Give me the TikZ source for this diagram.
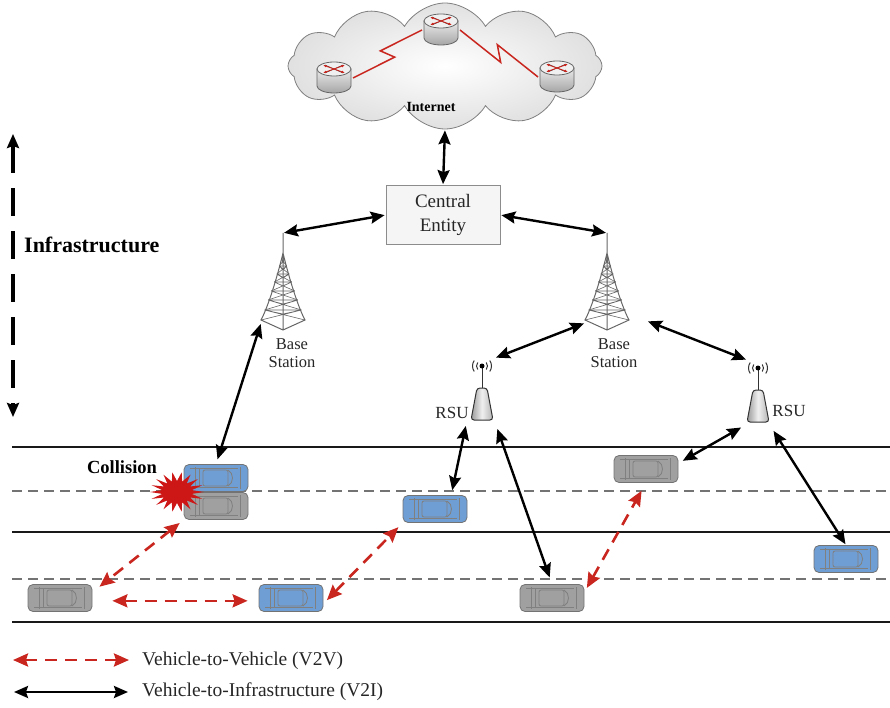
\documentclass[tikz,border=0pt]{standalone}
\usepackage{fontspec}
\setmainfont{Liberation Serif}
\usetikzlibrary{arrows.meta, shapes.symbols, calc}
\definecolor{CarBlue}{RGB}{110,158,212}
\definecolor{CarGray}{RGB}{160,160,160}
\definecolor{LinkRed}{RGB}{200,38,30}
\definecolor{CrashRed}{RGB}{205,22,22}

\tikzset{
  v2i/.style={line width=2.4pt, shorten <=1pt, shorten >=1pt,
    {Stealth[length=14pt,width=12pt,inset=2pt]}-{Stealth[length=14pt,width=12pt,inset=2pt]}},
  v2v/.style={LinkRed, line width=2.6pt, dash pattern=on 12pt off 8pt,
    {Stealth[length=15pt,width=13pt,inset=2pt]}-{Stealth[length=15pt,width=13pt,inset=2pt]}},
  infra/.style={line width=3.2pt, dash pattern=on 28pt off 15pt,
    {Stealth[length=14pt,width=12pt,inset=2pt]}-{Stealth[length=14pt,width=12pt,inset=2pt]}},
  road/.style={line width=2.6pt, black!90},
  lane/.style={black!55, line width=1.2pt, dash pattern=on 10pt off 6pt},
  bolt/.style={LinkRed, line width=1.5pt},
  carbody/.style={draw=black!55, line width=0.8pt, rounded corners=5pt,
    minimum width=64pt, minimum height=27pt, inner sep=0pt},
  cardetail/.style={black!50, line width=0.8pt},
  towerline/.style={black!60, line width=1pt},
  rsuline/.style={black!80, line width=1pt},
  routerline/.style={black!60, line width=0.8pt},
  lbl/.style={font=\fontsize{16.5}{18}\selectfont, align=center, inner sep=0pt, text=black!85},
  legend/.style={font=\fontsize{19.5}{22}\selectfont, inner sep=0pt, text=black!85},
  entity/.style={draw=black!45, fill=black!4, line width=0.8pt, minimum width=114pt,
    minimum height=59pt, align=center, font=\fontsize{19}{24}\selectfont, text=black!85},
  % vehicle seen from above, driving to the right
  car/.pic={
    \node[carbody, fill=#1] (-body) at (0,0) {};
    \draw[cardetail] (-21,-11) -- (-21,11) (-17,-10) -- (-17,10)
      (-26,-9.5) -- (22,-9.5) (-26,9.5) -- (22,9.5);
    \draw[cardetail, rounded corners=2pt] (-13,-8) rectangle (12,8);
    \draw[cardetail] (12,-8) .. controls (18,-5) and (18,5) .. (12,8);
    \draw[cardetail] (24,-11) -- (24,11);
  },
  % lattice mast, origin at the tip of the spike
  tower/.pic={
    \draw[towerline] (0,0) -- (0,97)
      (0,20) .. controls (-6,45) and (-15,74) .. (-22,87) -- (0,97) -- (22,87)
      .. controls (15,74) and (6,45) .. (0,20);
    \foreach \ya/\yb in {26/33,33/41,41/49,49/58,58/67,67/77,77/87}{
      \pgfmathsetmacro\wa{22*((\ya-20)/67)^1.1}
      \pgfmathsetmacro\wb{22*((\yb-20)/67)^1.1}
      \draw[towerline, line width=0.6pt] (-\wa,\ya) -- (\wa,\ya)
        (-\wa,\ya) -- (\wb,\yb) (\wa,\ya) -- (-\wb,\yb)
        (-\wa,\ya) -- (0,\ya+4) -- (\wa,\ya);
    }
    \coordinate (-top) at (0,0);
    \coordinate (-sw) at (-22,90);
    \coordinate (-se) at (40,88);
  },
  % road side unit, origin at the antenna ball
  rsu/.pic={
    \draw[rsuline] (0,2) -- (0,22);
    \fill (0,0) circle (2.5);
    \draw[rsuline, line width=1pt] (140:5.5) arc (140:220:5.5) (-40:5.5) arc (-40:40:5.5)
      (145:9.5) arc (145:215:9.5) (-35:9.5) arc (-35:35:9.5);
    \draw[rsuline, rounded corners=3pt, left color=black!40, right color=black!30, middle color=black!6]
      (-5,22) -- (5,22) -- (11,54) -- (-11,54) -- cycle;
    \coordinate (-ne) at (13,-8);
    \coordinate (-nw) at (-11,-8);
    \coordinate (-sw) at (-16,59);
    \coordinate (-se) at (15,62);
  },
  % router drum with crossed arrows on top
  router/.pic={
    \draw[routerline, top color=black!8, bottom color=black!35]
      (-17,0) -- (-17,17) arc (180:0:17 and 7) -- (17,0) -- cycle;
    \draw[routerline, fill=black!6] (0,0) ellipse (17 and 7);
    \draw[black!70, line width=0.6pt] (-9,-4) -- (9,4) (-9,4) -- (9,-4);
    \draw[LinkRed, line width=0.9pt, {Latex[length=3.5pt]}-{Latex[length=3.5pt]}] (-11,-4) -- (11,4);
    \draw[LinkRed, line width=0.9pt, {Latex[length=3.5pt]}-{Latex[length=3.5pt]}] (-11,4) -- (11,-4);
    \coordinate (-e) at (19,9);
    \coordinate (-w) at (-19,9);
  },
}

\begin{document}
\begin{tikzpicture}[x=1pt, y=-1pt]
  \useasboundingbox (0,0) rectangle (890,708);

  % Internet cloud with routers
  \node[cloud, cloud puffs=12, cloud puff arc=120, aspect=2.5, draw=black!50, line width=0.8pt,
    inner color=white, outer color=black!12, minimum width=314pt, minimum height=126pt] (inet) at (445,66) {};
  \pic (r1) at (334,69) {router};
  \pic (r2) at (441,21) {router};
  \pic (r3) at (557,68) {router};
  \draw[bolt] (r1-e) -- ($(r1-e)!.56!(r2-w)+(3,6)$) -- ($(r1-e)!.44!(r2-w)+(-3,-6)$) -- (r2-w);
  \draw[bolt] (r2-e) -- ($(r2-e)!.56!(r3-w)+(-3,6)$) -- ($(r2-e)!.44!(r3-w)+(3,-6)$) -- (r3-w);
  \node[font=\fontsize{14}{16}\bfseries, inner sep=0pt] (inetlbl) at (431,107) {Internet};

  % Central entity and base stations
  \node[entity] (ce) at (443,215) {Central\\Entity};
  \pic (bsL) at (283,233) {tower};
  \pic (bsR) at (607,233) {tower};
  \node[lbl] (bsLlbl) at (292,353) {Base\\Station};
  \node[lbl] (bsRlbl) at (614,353) {Base\\Station};

  % Road side units
  \pic (rsuL) at (482,366) {rsu};
  \pic (rsuR) at (758,368) {rsu};
  \node[lbl, font=\fontsize{17}{18}\selectfont] (rsuLlbl) at (452,413) {RSU};
  \node[lbl, font=\fontsize{17}{18}\selectfont] (rsuRlbl) at (789,411) {RSU};

  % Infrastructure level
  \coordinate (infraTop) at (13,134);
  \coordinate (infraBot) at (13,417);
  \draw[infra] (infraTop) -- (infraBot);
  \node[font=\fontsize{22}{24}\bfseries, anchor=west, inner sep=0pt] (infra) at (24,245) {Infrastructure};

  % Roads
  \draw[road] (12,447) -- (890,447);
  \draw[lane] (12,491) -- (890,491);
  \draw[road] (12,532) -- (890,532);
  \draw[lane] (12,579) -- (890,579);
  \draw[road] (12,622) -- (890,622);

  % Vehicles
  \pic (c1) at (216,478) {car=CarBlue};
  \pic (c2) at (216,506) {car=CarGray};
  \pic (c3) at (60,598) {car=CarGray};
  \pic (c4) at (291,598) {car=CarBlue};
  \pic (c5) at (435,509) {car=CarBlue};
  \pic (c6) at (552,598) {car=CarGray};
  \pic (c7) at (646,469) {car=CarGray};
  \pic (c8) at (846,559) {car=CarBlue};

  % Collision burst
  \begin{scope}[shift={(177,492)}]
    \fill[CrashRed] (0:27 and 20)
      \foreach \i [evaluate=\i as \rx using {27-12*mod(\i,2)},
                   evaluate=\i as \ry using {20-9*mod(\i,2)}] in {1,...,35} {
        -- (\i*10:{\rx} and {\ry}) } -- cycle;
  \end{scope}
  \node[font=\fontsize{18.5}{20}\bfseries, inner sep=0pt] (crash) at (122,467) {Collision};

  % V2I links
  \draw[v2i] (inet.south) -- (ce.north);
  \draw[v2i] (ce.west) -- (bsL-top);
  \draw[v2i] (ce.east) -- (bsR-top);
  \draw[v2i, shorten >=5pt] (bsL-sw) -- (c1-body.north);
  \draw[v2i] (bsR-sw) -- (rsuL-ne);
  \draw[v2i] (bsR-se) -- (rsuR-nw);
  \draw[v2i, shorten >=5pt] (rsuL-sw) -- ($(c5-body.north)!.5!(c5-body.north east)$);
  \draw[v2i, shorten >=7pt] (rsuL-se) -- (c6-body.north);
  \draw[v2i, shorten >=5pt] (rsuR-sw) -- (c7-body.10);
  \draw[v2i, shorten >=1pt] (rsuR-se) -- (c8-body.north);

  % V2V links
  \draw[v2v, shorten <=5pt, shorten >=9pt] (c2-body.south west) -- (c3-body.10);
  \draw[v2v, shorten <=20pt, shorten >=11pt] (c3-body.-5) -- (c4-body.185);
  \draw[v2v, shorten <=5pt, shorten >=6pt] (c4-body.-10) -- (c5-body.south west);
  \draw[v2v, shorten <=5pt, shorten >=9pt] (c6-body.10) -- (c7-body.south);

  % Legend
  \coordinate (v2vA) at (13,660);
  \coordinate (v2vB) at (129,660);
  \draw[v2v] (v2vA) -- (v2vB);
  \node[legend, anchor=west] (v2vtext) at (142,661) {Vehicle-to-Vehicle (V2V)};
  \coordinate (v2iA) at (13,692);
  \coordinate (v2iB) at (129,692);
  \draw[v2i] (v2iA) -- (v2iB);
  \node[legend, anchor=west] (v2itext) at (142,692) {Vehicle-to-Infrastructure (V2I)};
\end{tikzpicture}
\end{document}
